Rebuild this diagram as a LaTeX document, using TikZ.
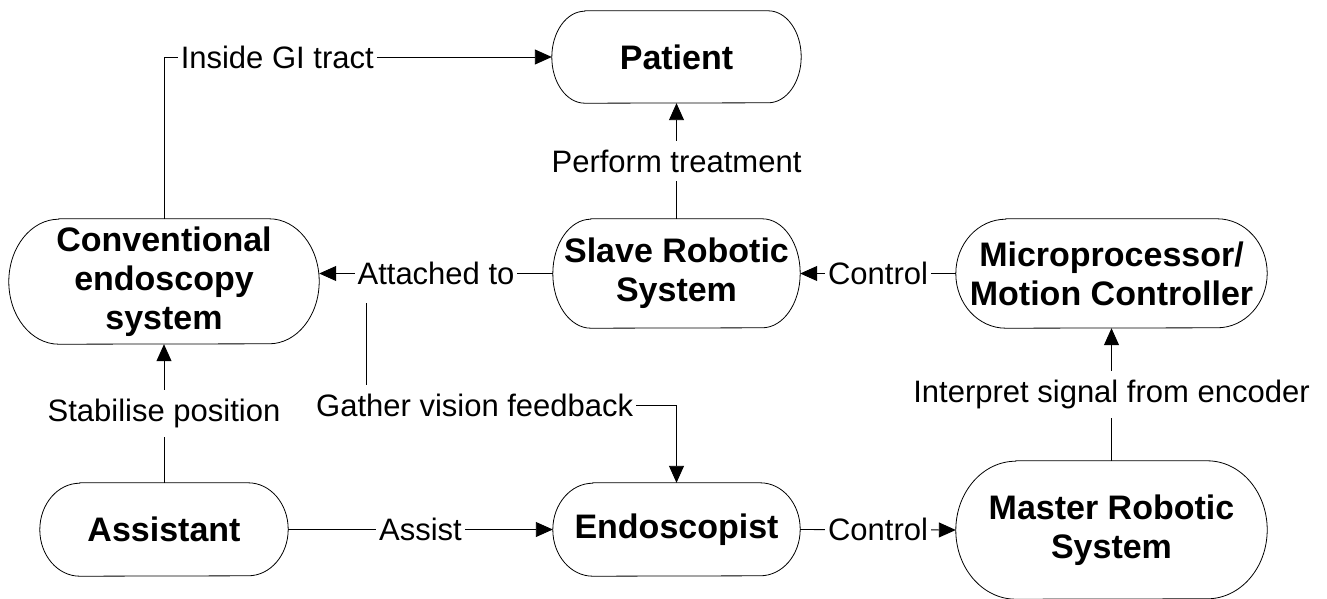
\documentclass[tikz,border=0pt]{standalone}
\usepackage{fontspec}
\setmainfont{Liberation Sans}
\usetikzlibrary{arrows.meta}
\newcommand\drawpill[3]{\draw[pillline] ([xshift=#2pt]#1.north west) -- ([xshift=-#2pt]#1.north east)
  arc[start angle=90,end angle=-90,x radius=#2pt,y radius=#3pt] -- ([xshift=#2pt]#1.south west)
  arc[start angle=270,end angle=90,x radius=#2pt,y radius=#3pt] -- cycle;}
\begin{document}
\begin{tikzpicture}[x=1pt,y=-1pt,
  pill/.style 2 args={minimum width=#1pt, minimum height=#2pt,
    inner sep=0pt, align=center, font=\fontsize{34}{39}\selectfont\bfseries},
  pillline/.style={line width=0.8pt},
  lab/.style={fill=white, inner xsep=3pt, inner ysep=9pt, font=\fontsize{31}{36}\selectfont},
  conn/.style={line width=0.9pt},
  arr/.style={conn, -{Triangle[length=17pt,width=15pt]}}
]
\useasboundingbox (0,0) rectangle (1327,599);

\node[pill={249}{92}] (patient) at (676.5,57) {Patient};
\node[pill={310}{125}] (conv) at (164,281.5) {Conventional\\endoscopy\\system};
\node[pill={247}{109}] (slave) at (676.5,273.5) {Slave Robotic\\System};
\node[pill={311}{109}] (micro) at (1111.5,273.5) {Microprocessor/\\Motion Controller};
\node[pill={248}{93}] (assist) at (164,529.5) {Assistant};
\node[pill={247}{93}] (endo) at (676.5,529.5) {Endoscopist};
\node[pill={311}{138}] (master) at (1111.5,530) {Master Robotic\\System};

\drawpill{patient}{33}{46}
\drawpill{conv}{50}{62.5}
\drawpill{slave}{38}{54.5}
\drawpill{micro}{50}{54.5}
\drawpill{assist}{40}{46.5}
\drawpill{endo}{40}{46.5}
\drawpill{master}{60}{69}

\draw[arr] (conv.north) |- node[lab, pos=0.646] {Inside GI tract} (patient.west);
\draw[arr] (slave.north) -- node[lab] {Perform treatment} (patient.south);
\draw[arr] (slave.west) -- node[lab] {Attached to} (slave.west -| conv.east);
\draw[arr] (micro.west) -- node[lab] {Control} (slave.east);
\draw[arr] (master.north) -- node[lab] {Interpret signal from encoder} (micro.south);
\draw[arr] (assist.north) -- node[lab] {Stabilise position} (conv.south);
\draw[arr] (assist.east) -- node[lab] {Assist} (endo.west);
\draw[arr] (endo.east) -- node[lab] {Control} (master.west);

\coordinate (gvs) at (366,303);
\coordinate (gvc) at (366,405);
\draw[arr] (gvs) -- (gvc) -- node[lab, pos=0.35] {Gather vision feedback} (gvc -| endo.north) -- (endo.north);
\end{tikzpicture}
\end{document}
